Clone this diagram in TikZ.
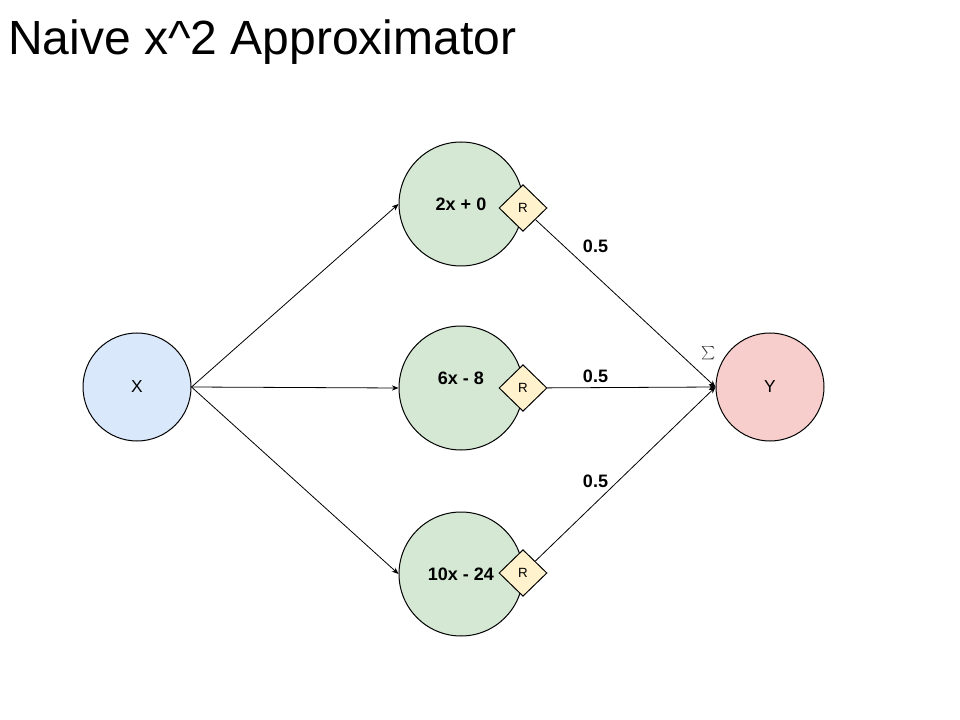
\documentclass[tikz,border=0pt]{standalone}
\usepackage{fontspec}
\setmainfont{Liberation Sans}
\usetikzlibrary{shapes.geometric, arrows.meta}
\definecolor{inblue}{HTML}{DAE8FC}
\definecolor{hidgreen}{HTML}{D5E8D4}
\definecolor{relucol}{HTML}{FFF2CC}
\definecolor{outred}{HTML}{F8CECC}
\begin{document}
\begin{tikzpicture}[x=0.75pt, y=-0.75pt, >={Stealth[length=5pt, width=4pt]},
  neuron/.style={circle, draw, line width=0.75pt, inner sep=0pt},
  hidden/.style={neuron, fill=hidgreen, minimum size=93pt, font=\bfseries\fontsize{13.5}{15}\selectfont},
  relu/.style={diamond, draw, line width=0.75pt, fill=relucol, inner sep=0pt,
    minimum width=36pt, minimum height=35pt, font=\fontsize{10}{12}\selectfont},
  weight/.style={font=\bfseries\fontsize{13.5}{15}\selectfont, inner sep=0pt},
  wire/.style={->, line width=0.6pt}]
  \useasboundingbox (0,0) rectangle (960,720);

  \node[anchor=base west, inner sep=0pt, font=\fontsize{36}{42}\selectfont] (title) at (8,55) {Naive x\textasciicircum 2 Approximator};

  % Input and output
  \node[neuron, fill=inblue, minimum size=81pt, font=\fontsize{13}{15}\selectfont] (x) at (137,387) {X};
  \node[neuron, fill=outred, minimum size=81pt, font=\fontsize{13}{15}\selectfont] (y) at (770,387) {Y};
  \node[text=black!80, inner sep=0pt, font=\fontsize{12.5}{14}\selectfont] (sum) at (709,353) {$\sum$};

  % Hidden units with their ReLUs
  \node[hidden] (h1) at (461,204) {2x + 0};
  \node[hidden, label={[yshift=7.5pt, font=\bfseries\fontsize{13.5}{15}\selectfont]center:6x - 8}] (h2) at (461,388) {};
  \node[hidden] (h3) at (461,574) {10x - 24};
  \node[relu] (r1) at (523,208) {R};
  \node[relu] (r2) at (523,388) {R};
  \node[relu] (r3) at (523,573) {R};

  \draw[wire] (x.east) -- (h1.west);
  \draw[wire] (x.east) -- (h2.west);
  \draw[wire] (x.east) -- (h3.west);

  \draw[wire] (r1) -- (y.west);
  \draw[wire] (r2) -- (y.west);
  \draw[wire] (r3) -- (y.west);

  \node[weight] (w1) at (595.5,246.5) {0.5};
  \node[weight] (w2) at (595.5,376.5) {0.5};
  \node[weight] (w3) at (595.5,481.5) {0.5};
\end{tikzpicture}
\end{document}
